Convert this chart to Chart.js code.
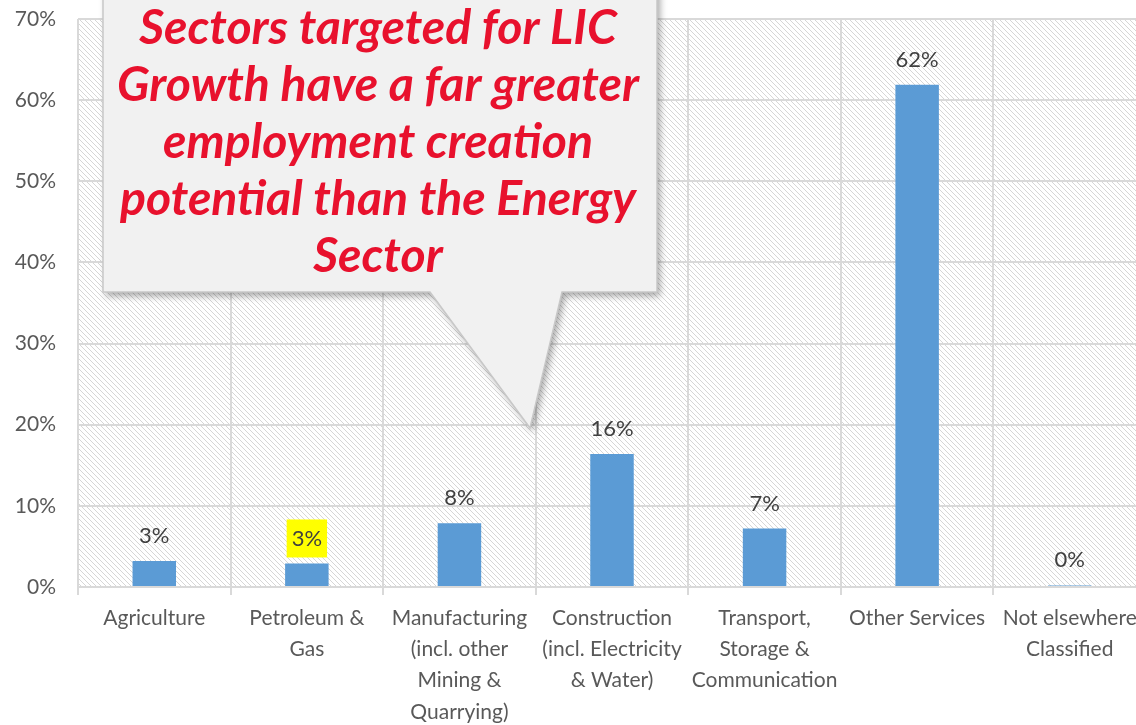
<!DOCTYPE html>
<html>
<head>
<meta charset="utf-8">
<script src="https://cdn.jsdelivr.net/npm/chart.js@4.4.1/dist/chart.umd.min.js"></script>
<style>
    html, body { margin: 0; padding: 0; background: #fff; overflow: hidden; }
    #wrap { position: relative; width: 1146px; height: 725px; }
</style>
</head>
<body>
<div id="wrap"><canvas id="sectorChart"></canvas></div>
<script>
// Chart data
const categories = [
    'Agriculture',
    ['Petroleum &', 'Gas'],
    ['Manufacturing', '(incl. other', 'Mining &', 'Quarrying)'],
    ['Construction', '(incl. Electricity', '& Water)'],
    ['Transport,', 'Storage &', 'Communication'],
    'Other Services',
    ['Not elsewhere', 'Classified']
];
const shares = [3.2, 2.9, 7.85, 16.4, 7.2, 61.9, 0.2];
const yTicks = [0, 10, 20, 30, 40, 50, 60, 70];
const calloutLines = [
    'Sectors targeted for LIC',
    'Growth have a far greater',
    'employment creation',
    'potential than the Energy',
    'Sector'
];
const highlightIndex = 1;

const gridColor = '#d9d9d9';
const tickFont = { family: 'Lato, "Open Sans", sans-serif', size: 21 };

function makeHatch() {
    const s = 5;
    const c = document.createElement('canvas');
    c.width = s; c.height = s;
    const g = c.getContext('2d');
    g.fillStyle = '#ffffff';
    g.fillRect(0, 0, s, s);
    g.fillStyle = '#d6d6d6';
    for (let i = 0; i < s; i++) {
        g.fillRect(i, i, 1, 1);
    }
    return g.createPattern(c, 'repeat');
}

const hatchBackground = {
    id: 'hatchBackground',
    beforeDraw(chart) {
        const { ctx, chartArea: a } = chart;
        ctx.save();
        ctx.fillStyle = makeHatch();
        ctx.fillRect(a.left, a.top, a.right - a.left, a.bottom - a.top);
        ctx.restore();
    }
};

const valueLabels = {
    id: 'valueLabels',
    afterDatasetsDraw(chart) {
        const ctx = chart.ctx;
        const meta = chart.getDatasetMeta(0);
        ctx.save();
        ctx.font = '22px Lato, "Open Sans", sans-serif';
        ctx.textAlign = 'center';
        ctx.textBaseline = 'middle';
        meta.data.forEach((bar, i) => {
            const text = Math.round(shares[i]) + '%';
            const y = bar.y - 25;
            if (i === highlightIndex) {
                const w = ctx.measureText(text).width + 10;
                ctx.fillStyle = '#ffff00';
                ctx.fillRect(bar.x - w / 2, y - 19, w, 38);
            }
            ctx.fillStyle = '#404040';
            ctx.fillText(text, bar.x, y);
        });
        ctx.restore();
    }
};

const callout = {
    id: 'callout',
    afterDraw(chart) {
        const ctx = chart.ctx;
        const left = 103, right = 657, top = -30, bottom = 292;
        ctx.save();
        ctx.beginPath();
        ctx.moveTo(left, top);
        ctx.lineTo(right, top);
        ctx.lineTo(right, bottom);
        ctx.lineTo(562, bottom);
        ctx.lineTo(530, 428);
        ctx.lineTo(430, bottom);
        ctx.lineTo(left, bottom);
        ctx.closePath();
        ctx.shadowColor = 'rgba(0,0,0,0.35)';
        ctx.shadowBlur = 7;
        ctx.shadowOffsetX = 3;
        ctx.shadowOffsetY = 4;
        ctx.fillStyle = '#f1f1f1';
        ctx.fill();
        ctx.shadowColor = 'transparent';
        ctx.strokeStyle = '#c8c8c8';
        ctx.lineWidth = 1.5;
        ctx.stroke();

        // size the text so the widest line fits the box like the original
        let size = 40;
        ctx.font = `italic bold ${size}px Lato, "Open Sans", sans-serif`;
        const widest = ctx.measureText(calloutLines[1]).width;
        size = size * 522 / widest;
        ctx.font = `italic bold ${size}px Lato, "Open Sans", sans-serif`;
        ctx.fillStyle = '#e8112d';
        ctx.textAlign = 'center';
        ctx.textBaseline = 'middle';
        calloutLines.forEach((line, i) => {
            ctx.fillText(line, 378, 28 + i * 57);
        });
        ctx.restore();
    }
};

const ctx = document.getElementById('sectorChart').getContext('2d');
new Chart(ctx, {
    type: 'bar',
    data: {
        labels: categories,
        datasets: [{
            data: shares,
            backgroundColor: '#5b9bd5',
            barPercentage: 0.285,
            categoryPercentage: 1
        }]
    },
    options: {
        responsive: true,
        maintainAspectRatio: false,
        animation: false,
        layout: { padding: { top: 19, left: 0, right: 0, bottom: 0 } },
        plugins: {
            legend: { display: false },
            tooltip: { enabled: false }
        },
        scales: {
            x: {
                grid: {
                    display: true,
                    offset: true,
                    color: gridColor,
                    lineWidth: 2,
                    drawTicks: true,
                    tickLength: 8
                },
                border: { color: gridColor, width: 2 },
                ticks: {
                    color: '#595959',
                    font: { ...tickFont, lineHeight: 1.48 },
                    padding: 8,
                    maxRotation: 0,
                    autoSkip: false
                },
                afterFit(scale) {
                    scale.height = 138;
                    scale.paddingLeft = 0;
                    scale.paddingRight = 0;
                }
            },
            y: {
                min: 0,
                max: 70,
                afterBuildTicks(scale) {
                    scale.ticks = yTicks.map(v => ({ value: v }));
                },
                grid: {
                    color: gridColor,
                    lineWidth: 2,
                    drawTicks: false
                },
                border: { display: false },
                ticks: {
                    color: '#595959',
                    font: tickFont,
                    padding: 22,
                    callback: v => v + '%'
                },
                afterFit(scale) {
                    scale.width = 78;
                    scale.paddingTop = 0;
                    scale.paddingBottom = 0;
                }
            }
        }
    },
    plugins: [hatchBackground, valueLabels, callout]
});
</script>
</body>
</html>
